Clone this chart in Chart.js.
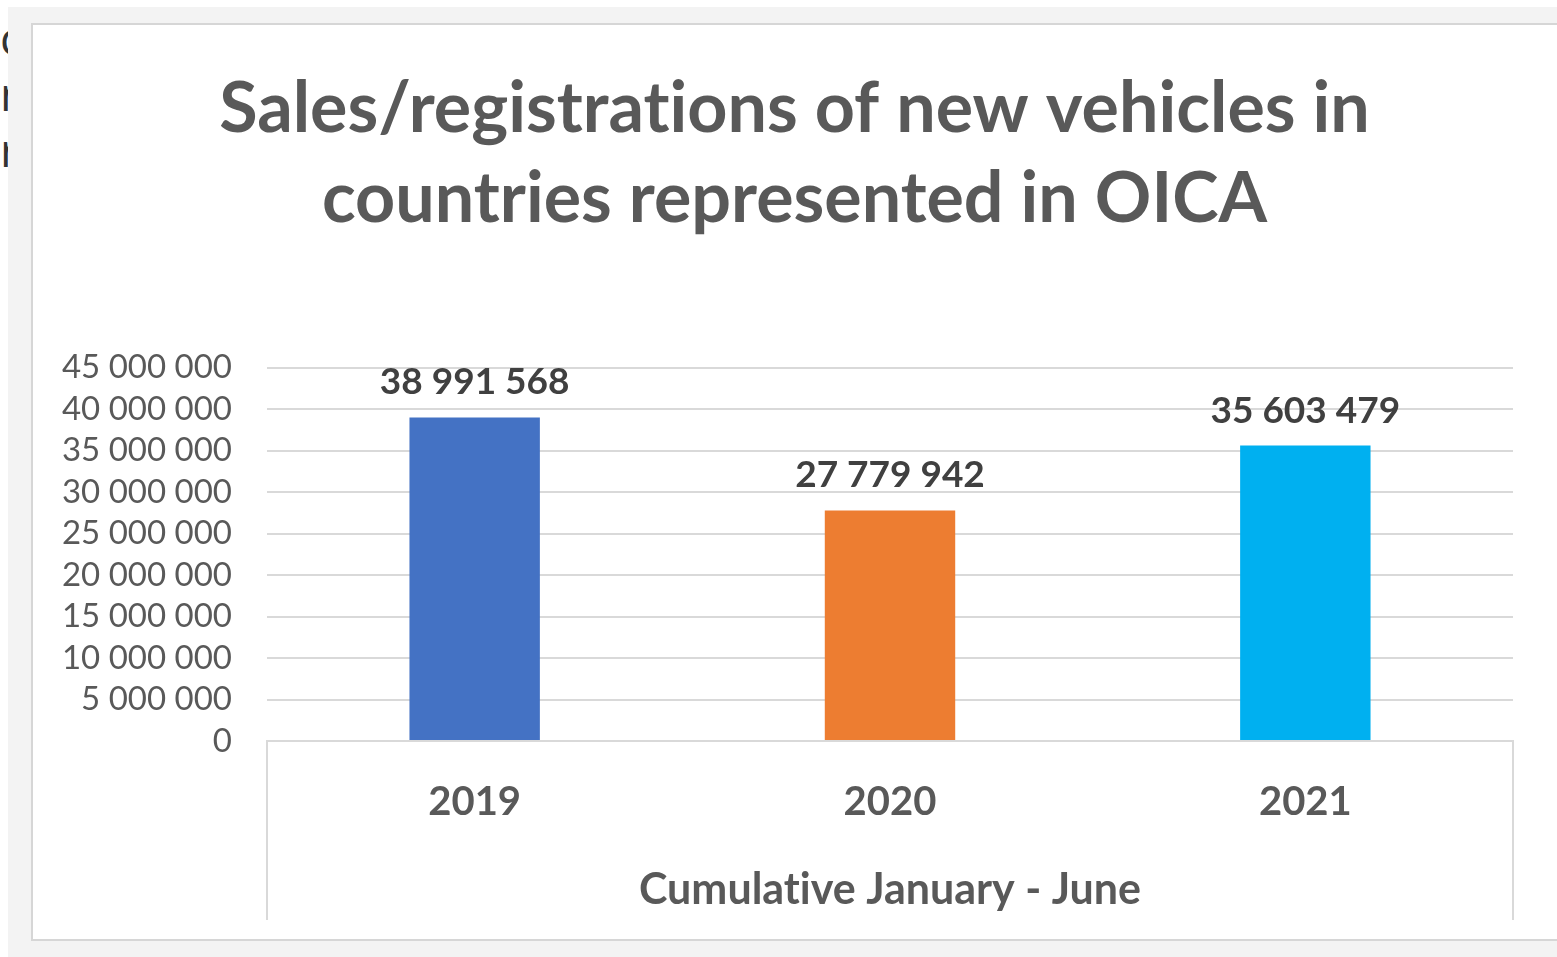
<!DOCTYPE html>
<html>
<head>
<meta charset="utf-8">
<script src="https://cdn.jsdelivr.net/npm/chart.js@4"></script>
<style>
  html, body { margin: 0; padding: 0; background: #ffffff; width: 1557px; height: 957px; overflow: hidden; }
  #outer { position: absolute; left: 8px; top: 7px; width: 1549px; height: 950px; background: #f3f3f3; }
  #frame { position: absolute; left: 31px; top: 23px; width: 1540px; height: 918px; background: #ffffff; border: 2px solid #d6d6d6; box-sizing: border-box; }
  #side { position: absolute; left: 0px; top: 9px; font-family: "Open Sans", sans-serif; font-size: 46px; color: #333; line-height: 56px; }
  #wrap { position: absolute; left: 0; top: 0; width: 1557px; height: 957px; }
</style>
</head>
<body>
<div id="side">c<br>n<br>r</div>
<div id="outer"></div>
<div id="frame"></div>
<div id="wrap"><canvas id="c" width="1557" height="957"></canvas></div>
<script>
const categories = ["2019", "2020", "2021"];
const values = [38991568, 27779942, 35603479];
const barColors = ["#4472C4", "#ED7D31", "#00B0F0"];
const titleLines = ["Sales/registrations of new vehicles in", "countries represented in OICA"];
const xTitle = "Cumulative January - June";
const yMax = 45000000;
const yStep = 5000000;

const FONT = "Lato, 'Open Sans', sans-serif";
const fmt = v => String(Math.round(v)).replace(/\B(?=(\d{3})+(?!\d))/g, " ");

const textPlugin = {
  id: 'noLig',
  beforeDraw(chart) {
    try { chart.ctx.textRendering = 'optimizeSpeed'; } catch (e) {}
  }
};

const labelPlugin = {
  id: 'barLabels',
  afterDatasetsDraw(chart) {
    const ctx = chart.ctx;
    const meta = chart.getDatasetMeta(0);
    ctx.save();
    ctx.font = "bold 37px " + FONT;
    ctx.fillStyle = "#404040";
    ctx.textAlign = "center";
    ctx.textBaseline = "middle";
    meta.data.forEach((bar, i) => {
      ctx.fillText(fmt(values[i]), bar.x, bar.y - 35);
    });
    ctx.restore();
  }
};

const boxPlugin = {
  id: 'catBox',
  beforeDatasetsDraw(chart) {
    const ctx = chart.ctx;
    const a = chart.chartArea;
    const xs = chart.scales.x;
    ctx.save();
    ctx.strokeStyle = "#d9d9d9";
    ctx.lineWidth = 2;
    ctx.beginPath();
    ctx.moveTo(a.left, xs.bottom);
    ctx.lineTo(a.left, a.bottom);
    ctx.lineTo(a.right, a.bottom);
    ctx.lineTo(a.right, xs.bottom);
    ctx.stroke();
    ctx.restore();
  }
};

new Chart(document.getElementById('c'), {
  type: 'bar',
  data: {
    labels: categories,
    datasets: [{
      data: values,
      backgroundColor: barColors,
      borderWidth: 0,
      barPercentage: 0.314,
      categoryPercentage: 1.0
    }]
  },
  plugins: [textPlugin, labelPlugin, boxPlugin],
  options: {
    responsive: false,
    animation: false,
    devicePixelRatio: 1,
    layout: { padding: { left: 32, top: 24, right: 0, bottom: 37 } },
    plugins: {
      legend: { display: false },
      tooltip: { enabled: false },
      title: {
        display: true,
        text: titleLines,
        color: "#595959",
        font: { family: FONT, size: 70, weight: 'bold', lineHeight: 1.29 },
        padding: { top: 40, bottom: 123 }
      }
    },
    scales: {
      x: {
        grid: { display: false, drawTicks: false },
        border: { display: false },
        ticks: { color: "#595959", font: { family: FONT, size: 40, weight: 'bold' }, padding: 37 },
        title: {
          display: true, text: xTitle, color: "#595959",
          font: { family: FONT, size: 43, weight: 'bold' },
          padding: { top: 0, bottom: 4 }
        },
        afterFit(s) { s.height = 179; }
      },
      y: {
        min: 0, max: yMax,
        grid: { color: "#d9d9d9", lineWidth: 2, drawTicks: false },
        border: { display: false },
        ticks: {
          stepSize: yStep, color: "#595959", padding: 35,
          autoSkip: false,
          font: { family: FONT, size: 33, lineHeight: 1 },
          callback: v => fmt(v)
        },
        afterFit(s) { s.width = 235; }
      },
      y2: {
        type: 'linear', position: 'right', display: true,
        grid: { display: false, drawTicks: false },
        border: { display: false },
        ticks: { display: false },
        afterFit(s) { s.width = 44; }
      }
    }
  }
});
</script>
</body>
</html>
